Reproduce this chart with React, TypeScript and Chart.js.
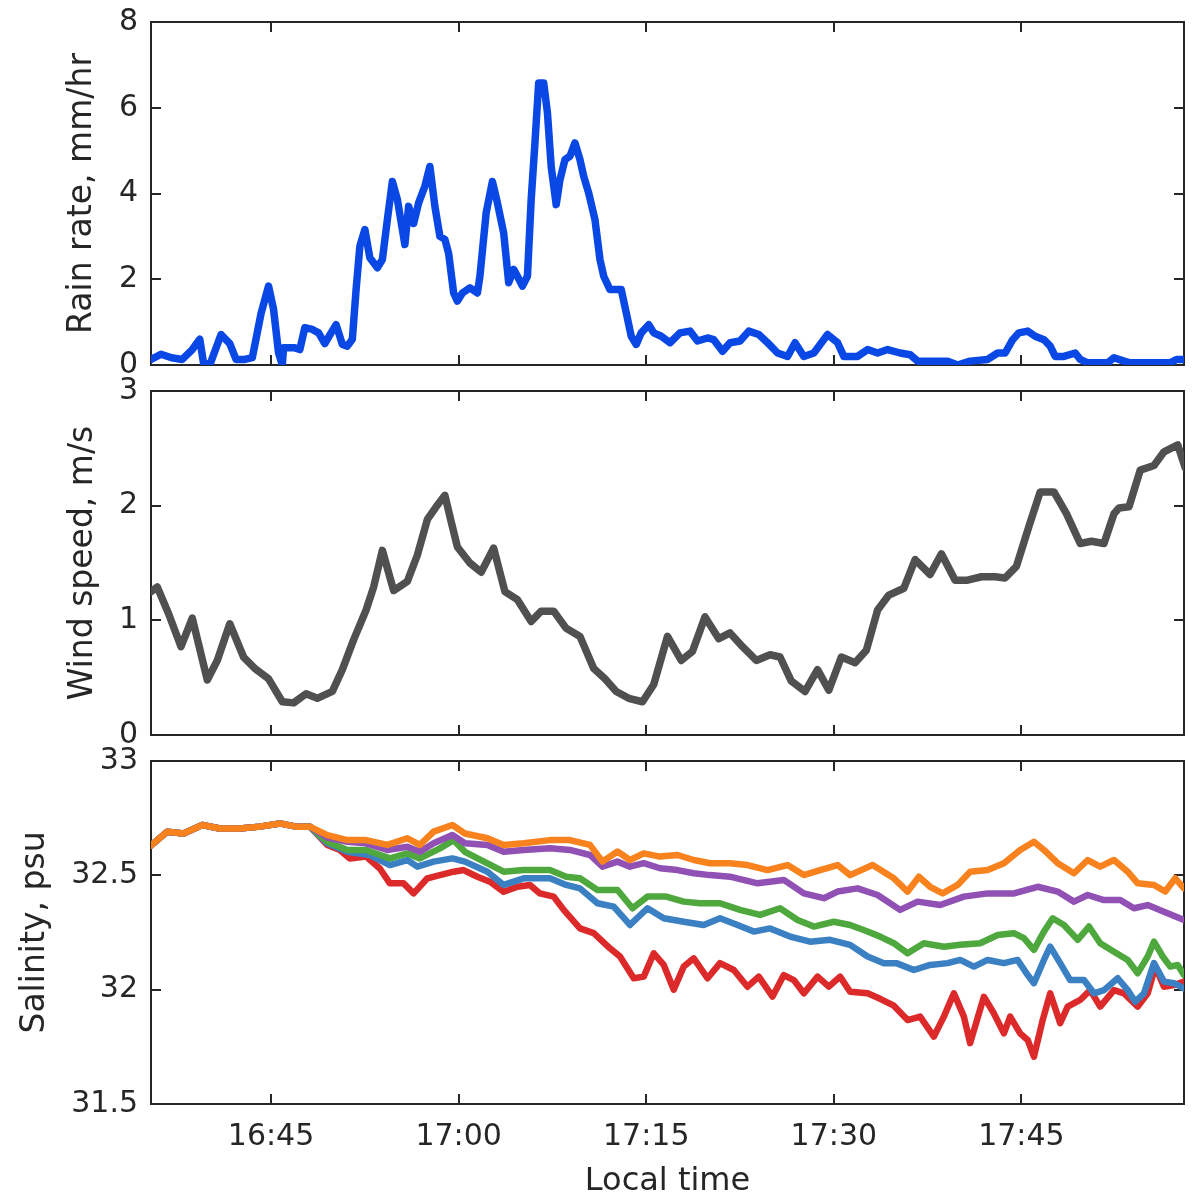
import React, { useEffect, useRef } from "react";
import { Chart, registerables } from "chart.js";

Chart.register(...registerables);

// time axis: minutes after 16:00
const xMin = 35.4;
const xMax = 118.0;
const xTickValues = [45, 60, 75, 90, 105];
const xTickLabels = ["16:45", "17:00", "17:15", "17:30", "17:45"];

const rainTicks = [0, 2, 4, 6, 8];
const windTicks = [0, 1, 2, 3];
const salTicks = [31.5, 32, 32.5, 33];

// Rain rate, mm/hr  [time, value]
const rain: [number, number][] = [
  [35.4, 0.13], [36.2, 0.25], [37.05, 0.17], [37.9, 0.13], [38.7, 0.36], [39.3, 0.6], [39.6, 0.05], [40.1, 0],
  [41.0, 0.71], [41.7, 0.5], [42.2, 0.13], [42.9, 0.13], [43.5, 0.17], [44.2, 1.2], [44.8, 1.84], [45.2, 1.3],
  [45.6, 0.28], [45.9, 0], [46.0, 0.4], [46.9, 0.4], [47.3, 0.36], [47.7, 0.87], [48.3, 0.83], [48.8, 0.75],
  [49.3, 0.5], [49.8, 0.75], [50.2, 0.94], [50.7, 0.48], [51.1, 0.44], [51.5, 0.6], [51.8, 1.76], [52.1, 2.77],
  [52.5, 3.16], [52.9, 2.5], [53.5, 2.27], [53.9, 2.46], [54.3, 3.39], [54.7, 4.28], [55.1, 3.86], [55.7, 2.81],
  [56.0, 3.7], [56.4, 3.3], [56.8, 3.78], [57.3, 4.17], [57.7, 4.63], [58.1, 3.7], [58.5, 3.0], [58.9, 2.93],
  [59.2, 2.6], [59.6, 1.68], [59.9, 1.49], [60.3, 1.68], [60.9, 1.8], [61.5, 1.68], [61.7, 2.07], [62.2, 3.55],
  [62.7, 4.28], [63.1, 3.78], [63.6, 3.08], [64.0, 1.92], [64.4, 2.23], [64.7, 2.07], [65.1, 1.84], [65.5, 2.07],
  [65.8, 3.86], [66.1, 5.18], [66.4, 6.58], [66.8, 6.58], [67.1, 5.88], [67.4, 4.63], [67.8, 3.74], [68.1, 4.32],
  [68.5, 4.79], [68.9, 4.87], [69.3, 5.18], [69.7, 4.79], [70.0, 4.4], [70.4, 4.01], [70.9, 3.39], [71.3, 2.46],
  [71.6, 2.07], [72.1, 1.76], [73.0, 1.76], [73.4, 1.22], [73.8, 0.67], [74.2, 0.48], [74.6, 0.75], [75.2, 0.94],
  [75.6, 0.75], [76.2, 0.67], [76.9, 0.52], [77.7, 0.75], [78.5, 0.79], [79.1, 0.56], [79.9, 0.63], [80.4, 0.59],
  [81.1, 0.32], [81.7, 0.52], [82.5, 0.56], [83.2, 0.79], [84.0, 0.71], [84.7, 0.52], [85.5, 0.28], [86.3, 0.2],
  [86.9, 0.52], [87.6, 0.2], [88.4, 0.28], [89.5, 0.71], [90.3, 0.52], [90.8, 0.2], [91.9, 0.2], [92.7, 0.36],
  [93.5, 0.28], [94.3, 0.36], [95.3, 0.28], [96.1, 0.24], [96.7, 0.09], [99.1, 0.09], [99.9, 0], [100.9, 0.09],
  [102.3, 0.13], [103.1, 0.28], [103.7, 0.28], [104.3, 0.59], [104.8, 0.75], [105.5, 0.79], [106.1, 0.67], [106.8, 0.59],
  [107.3, 0.44], [107.7, 0.2], [108.4, 0.2], [109.3, 0.28], [109.7, 0.13], [110.3, 0.05], [111.9, 0.05], [112.4, 0.17],
  [113.2, 0.09], [113.7, 0.05], [116.9, 0.05], [117.4, 0.13], [118.1, 0.13],
];

// Wind speed, m/s
const wind: [number, number][] = [
  [35.4, 1.25], [35.9, 1.29], [36.8, 1.06], [37.8, 0.77], [38.7, 1.02], [39.9, 0.48], [40.7, 0.65], [41.7, 0.97],
  [42.8, 0.68], [43.7, 0.58], [44.8, 0.49], [45.9, 0.29], [46.8, 0.28], [47.8, 0.36], [48.7, 0.32], [49.9, 0.38],
  [50.7, 0.57], [51.6, 0.83], [52.6, 1.09], [53.2, 1.29], [53.9, 1.61], [54.8, 1.26], [55.9, 1.34], [56.7, 1.57],
  [57.5, 1.88], [58.2, 1.99], [58.9, 2.09], [59.4, 1.86], [59.9, 1.64], [60.9, 1.5], [61.8, 1.42], [62.8, 1.63],
  [63.7, 1.25], [64.7, 1.18], [65.8, 0.99], [66.6, 1.08], [67.6, 1.08], [68.6, 0.93], [69.7, 0.86], [70.8, 0.58],
  [71.7, 0.49], [72.6, 0.38], [73.6, 0.32], [74.7, 0.29], [75.6, 0.44], [76.7, 0.86], [77.8, 0.65], [78.7, 0.73],
  [79.7, 1.03], [80.8, 0.84], [81.7, 0.89], [82.7, 0.77], [83.8, 0.65], [84.9, 0.7], [85.7, 0.68], [86.6, 0.47],
  [87.7, 0.38], [88.7, 0.57], [89.6, 0.39], [90.6, 0.68], [91.7, 0.63], [92.6, 0.74], [93.5, 1.09], [94.4, 1.22],
  [95.6, 1.28], [96.5, 1.53], [97.7, 1.4], [98.6, 1.58], [99.7, 1.35], [100.7, 1.35], [101.8, 1.38], [102.9, 1.38],
  [103.7, 1.37], [104.6, 1.47], [105.6, 1.82], [106.5, 2.12], [107.6, 2.12], [108.6, 1.93], [109.7, 1.67], [110.6, 1.69],
  [111.6, 1.67], [112.4, 1.93], [112.8, 1.98], [113.6, 1.99], [114.5, 2.31], [115.6, 2.35], [116.4, 2.47], [117.5, 2.53],
  [118.1, 2.33],
];

// Salinity, psu — shared start (all sensors overlap)
const salStart: [number, number][] = [
  [35.4, 32.63], [36.7, 32.691], [38.0, 32.683], [39.5, 32.72], [40.9, 32.705], [42.5, 32.705], [44.1, 32.713],
  [45.7, 32.727], [47.0, 32.713], [48.1, 32.713],
];

const salOrange: [number, number][] = [
  [49.5, 32.676], [51.1, 32.654], [52.6, 32.654], [54.3, 32.633], [55.9, 32.662], [56.9, 32.633], [58.0, 32.691],
  [59.5, 32.72], [60.5, 32.683], [62.3, 32.662], [63.6, 32.633], [65.2, 32.64], [67.3, 32.654], [68.9, 32.654],
  [70.5, 32.633], [71.5, 32.56], [72.7, 32.604], [73.7, 32.567], [74.8, 32.596], [76.1, 32.582], [77.5, 32.589],
  [78.8, 32.567], [80.1, 32.553], [81.7, 32.553], [83.1, 32.545], [84.7, 32.523], [86.3, 32.545], [87.6, 32.501],
  [88.9, 32.523], [90.3, 32.545], [91.3, 32.501], [93.1, 32.545], [94.8, 32.487], [95.9, 32.429], [96.8, 32.494],
  [97.7, 32.45], [98.7, 32.421], [99.9, 32.458], [100.9, 32.516], [102.3, 32.523], [103.6, 32.553], [104.9, 32.611],
  [106.0, 32.647], [106.8, 32.611], [107.9, 32.553], [109.2, 32.509], [110.3, 32.567], [111.3, 32.538], [112.4, 32.567],
  [113.5, 32.516], [114.3, 32.465], [115.6, 32.458], [116.5, 32.429], [117.3, 32.487], [118.0, 32.443],
];

const salPurple: [number, number][] = [
  [49.5, 32.665], [51.1, 32.647], [52.6, 32.64], [54.3, 32.611], [55.9, 32.625], [56.9, 32.603], [58.0, 32.64],
  [59.5, 32.676], [60.5, 32.64], [62.3, 32.633], [63.6, 32.603], [65.2, 32.611], [67.3, 32.618], [68.9, 32.611],
  [70.5, 32.589], [71.5, 32.538], [72.7, 32.56], [73.7, 32.538], [74.8, 32.553], [76.1, 32.531], [77.5, 32.523],
  [78.8, 32.509], [80.1, 32.501], [81.7, 32.494], [83.9, 32.465], [86.0, 32.48], [87.6, 32.421], [89.2, 32.4],
  [90.3, 32.429], [91.9, 32.443], [93.5, 32.414], [95.3, 32.349], [96.7, 32.385], [98.5, 32.37], [100.4, 32.407],
  [102.3, 32.421], [104.4, 32.421], [106.3, 32.45], [107.9, 32.429], [109.2, 32.385], [110.3, 32.414], [111.6, 32.392],
  [112.9, 32.392], [114.0, 32.356], [115.1, 32.37], [116.4, 32.341], [118.0, 32.305],
];

const salGreen: [number, number][] = [
  [49.5, 32.647], [51.1, 32.611], [52.6, 32.611], [54.5, 32.574], [55.9, 32.596], [56.9, 32.574], [58.5, 32.618],
  [59.6, 32.654], [60.5, 32.603], [62.3, 32.552], [63.6, 32.516], [65.2, 32.523], [67.3, 32.523], [68.6, 32.494],
  [69.7, 32.487], [71.1, 32.436], [72.7, 32.436], [73.9, 32.356], [75.1, 32.407], [76.6, 32.407], [78.0, 32.385],
  [79.3, 32.378], [80.9, 32.378], [82.5, 32.349], [84.1, 32.327], [85.7, 32.356], [87.1, 32.305], [88.4, 32.276],
  [90.0, 32.297], [91.3, 32.283], [92.7, 32.254], [93.7, 32.232], [94.8, 32.203], [95.9, 32.159], [97.2, 32.203],
  [98.8, 32.188], [100.1, 32.196], [101.7, 32.203], [103.1, 32.239], [104.4, 32.247], [105.2, 32.225], [106.0, 32.174],
  [106.8, 32.254], [107.5, 32.312], [108.4, 32.283], [109.5, 32.218], [110.4, 32.276], [111.3, 32.203], [112.4, 32.166],
  [113.5, 32.13], [114.3, 32.072], [115.1, 32.145], [115.6, 32.21], [116.3, 32.145], [116.9, 32.101], [117.5, 32.108],
  [118.0, 32.064],
];

const salBlue: [number, number][] = [
  [49.5, 32.64], [51.1, 32.603], [52.9, 32.589], [54.5, 32.545], [55.9, 32.567], [56.7, 32.538], [58.0, 32.56],
  [59.5, 32.574], [60.5, 32.56], [62.3, 32.516], [63.6, 32.458], [65.2, 32.487], [67.3, 32.487], [68.6, 32.458],
  [69.7, 32.443], [71.1, 32.378], [72.4, 32.363], [73.7, 32.283], [75.1, 32.356], [76.4, 32.312], [78.0, 32.297],
  [79.6, 32.283], [80.9, 32.312], [82.3, 32.283], [83.6, 32.254], [84.9, 32.268], [86.5, 32.232], [88.1, 32.21],
  [89.7, 32.218], [91.3, 32.196], [92.7, 32.145], [94.0, 32.116], [95.0, 32.116], [96.4, 32.086], [97.7, 32.108],
  [99.1, 32.116], [100.1, 32.13], [101.2, 32.101], [102.3, 32.13], [103.6, 32.116], [104.7, 32.13], [105.4, 32.072],
  [106.0, 32.028], [106.8, 32.13], [107.3, 32.188], [108.1, 32.116], [108.9, 32.042], [110.0, 32.042], [110.8, 31.984],
  [111.6, 31.998], [112.7, 32.05], [113.5, 31.998], [114.1, 31.947], [114.8, 31.984], [115.6, 32.116], [116.4, 32.035],
  [117.2, 32.028], [118.0, 32.006],
];

const salRed: [number, number][] = [
  [49.5, 32.633], [50.5, 32.611], [51.3, 32.574], [52.6, 32.582], [53.7, 32.53], [54.5, 32.465], [55.6, 32.465],
  [56.4, 32.421], [57.5, 32.487], [58.5, 32.501], [59.6, 32.516], [60.4, 32.523], [61.5, 32.494], [62.5, 32.472],
  [63.6, 32.428], [64.7, 32.45], [65.7, 32.458], [66.5, 32.421], [67.6, 32.407], [68.4, 32.349], [69.7, 32.268],
  [70.8, 32.247], [72.1, 32.181], [72.9, 32.145], [74.0, 32.05], [74.8, 32.057], [75.6, 32.159], [76.4, 32.108],
  [77.2, 32.0], [78.0, 32.101], [78.8, 32.137], [79.9, 32.05], [80.9, 32.116], [82.0, 32.086], [83.1, 32.013],
  [84.0, 32.057], [85.1, 31.97], [86.0, 32.064], [86.8, 32.042], [87.6, 31.984], [88.7, 32.057], [89.6, 32.013],
  [90.5, 32.057], [91.3, 31.991], [92.7, 31.984], [93.7, 31.96], [94.8, 31.93], [95.9, 31.867], [96.9, 31.882],
  [98.0, 31.795], [98.8, 31.882], [99.6, 31.984], [100.4, 31.882], [100.9, 31.766], [102.0, 31.969], [102.8, 31.896],
  [103.6, 31.809], [104.1, 31.882], [104.9, 31.809], [105.5, 31.78], [106.0, 31.707], [106.7, 31.867], [107.3, 31.984],
  [108.1, 31.853], [108.7, 31.926], [109.7, 31.955], [110.5, 31.998], [111.3, 31.926], [112.4, 31.998], [113.2, 31.984],
  [114.3, 31.926], [115.1, 31.984], [115.7, 32.101], [116.4, 32.013], [117.2, 32.02], [118.0, 32.035],
];

const FONT = "'DejaVu Sans', sans-serif";
const TEXT = "#262626";

const toXY = (arr: [number, number][]) => arr.map(([x, y]) => ({ x, y }));

const framePlugin = {
  id: "matlabFrame",
  beforeDatasetsDraw(chart: any) {
    const { ctx, chartArea: a, scales } = chart;
    ctx.save();
    ctx.strokeStyle = "#262626";
    ctx.lineWidth = 2;
    ctx.strokeRect(a.left, a.top, a.right - a.left, a.bottom - a.top);
    const L = 10;
    ctx.beginPath();
    for (const v of xTickValues) {
      const px = Math.round(scales.x.getPixelForValue(v));
      ctx.moveTo(px, a.top);
      ctx.lineTo(px, a.top + L);
      ctx.moveTo(px, a.bottom);
      ctx.lineTo(px, a.bottom - L);
    }
    for (const t of scales.y.ticks) {
      const py = Math.round(scales.y.getPixelForValue(t.value));
      ctx.moveTo(a.left, py);
      ctx.lineTo(a.left + L, py);
      ctx.moveTo(a.right, py);
      ctx.lineTo(a.right - L, py);
    }
    ctx.stroke();
    ctx.restore();
  },
};

type PanelProps = {
  top: number;
  height: number;
  padTop: number;
  padBottom: number;
  yMin: number;
  yMax: number;
  yTicks: number[];
  yTitle: string;
  yTitleOffset: number;
  datasets: any[];
  showX: boolean;
};

function Panel(p: PanelProps) {
  const ref = useRef<HTMLCanvasElement | null>(null);
  useEffect(() => {
    if (!ref.current) return;
    const chart = new Chart(ref.current, {
      type: "line",
      data: { datasets: p.datasets },
      plugins: [framePlugin],
      options: {
        animation: false,
        responsive: false,
        devicePixelRatio: 1,
        layout: { padding: { left: 0, right: 17, top: p.padTop, bottom: p.padBottom } },
        plugins: { legend: { display: false }, tooltip: { enabled: false } },
        elements: { point: { radius: 0, hoverRadius: 0 }, line: { tension: 0, borderJoinStyle: "round", borderCapStyle: "round" } },
        scales: {
          x: {
            type: "linear",
            min: xMin,
            max: xMax,
            display: p.showX,
            grid: { display: false, drawTicks: false },
            border: { display: false },
            afterBuildTicks: (s: any) => {
              s.ticks = xTickValues.map((v) => ({ value: v }));
            },
            afterFit: (s: any) => {
              if (p.showX) s.height = 94;
              s.paddingLeft = 0;
              s.paddingRight = 0;
              s.paddingTop = 0;
              s.paddingBottom = 0;
            },
            ticks: {
              padding: 15,
              maxRotation: 0,
              autoSkip: false,
              color: TEXT,
              font: { family: FONT, size: 30 },
              callback: (v: any) => {
                const i = xTickValues.indexOf(Number(v));
                return i >= 0 ? xTickLabels[i] : "";
              },
            },
            title: {
              display: true,
              text: "Local time",
              color: TEXT,
              font: { family: FONT, size: 32, lineHeight: 1 },
              padding: { top: 0, bottom: 0 },
            },
          },
          y: {
            type: "linear",
            min: p.yMin,
            max: p.yMax,
            grid: { display: false, drawTicks: false },
            border: { display: false },
            afterBuildTicks: (s: any) => {
              s.ticks = p.yTicks.map((v) => ({ value: v }));
            },
            afterFit: (s: any) => {
              s.width = 151;
              s.paddingLeft = 0;
              s.paddingRight = 0;
              s.paddingTop = 0;
              s.paddingBottom = 0;
            },
            ticks: {
              padding: 13,
              color: TEXT,
              font: { family: FONT, size: 30 },
              callback: (v: any) => String(Number(v)),
            },
            title: {
              display: true,
              text: p.yTitle,
              color: TEXT,
              font: { family: FONT, size: 33, lineHeight: 1 },
              padding: { top: p.yTitleOffset, bottom: 0 },
            },
          },
        },
      },
    } as any);
    return () => chart.destroy();
  }, []);
  return (
    <canvas
      ref={ref}
      width={1201}
      height={p.height}
      style={{ position: "absolute", left: 0, top: p.top, width: 1201, height: p.height }}
    />
  );
}

const line = (data: [number, number][], color: string, width: number) => ({
  data: toXY(data),
  borderColor: color,
  backgroundColor: color,
  borderWidth: width,
  fill: false,
  pointRadius: 0,
  pointHoverRadius: 0,
});

export default function App() {
  return (
    <div style={{ position: "absolute", left: 0, top: 0, width: 1201, height: 1198, background: "#fff", overflow: "hidden" }}>
      <Panel
        top={0}
        height={392}
        padTop={22}
        padBottom={27}
        yMin={0}
        yMax={8}
        yTicks={rainTicks}
        yTitle="Rain rate, mm/hr"
        yTitleOffset={66}
        datasets={[line(rain, "#0a48e6", 7.5)]}
        showX={false}
      />
      <Panel
        top={368}
        height={392}
        padTop={23}
        padBottom={25}
        yMin={0}
        yMax={3}
        yTicks={windTicks}
        yTitle="Wind speed, m/s"
        yTitleOffset={67}
        datasets={[line(wind, "#505050", 7.5)]}
        showX={false}
      />
      <Panel
        top={738}
        height={460}
        padTop={23}
        padBottom={0}
        yMin={31.5}
        yMax={33}
        yTicks={salTicks}
        yTitle="Salinity, psu"
        yTitleOffset={19}
        datasets={[
          line(salStart.concat(salOrange), "#f7821e", 6.5),
          line(salStart.concat(salPurple), "#9150b4", 6.5),
          line(salStart.concat(salGreen), "#4fa83d", 6.5),
          line(salStart.concat(salBlue), "#3a80c2", 6.5),
          line(salStart.concat(salRed), "#dc2a2a", 6.5),
        ]}
        showX={true}
      />
    </div>
  );
}
